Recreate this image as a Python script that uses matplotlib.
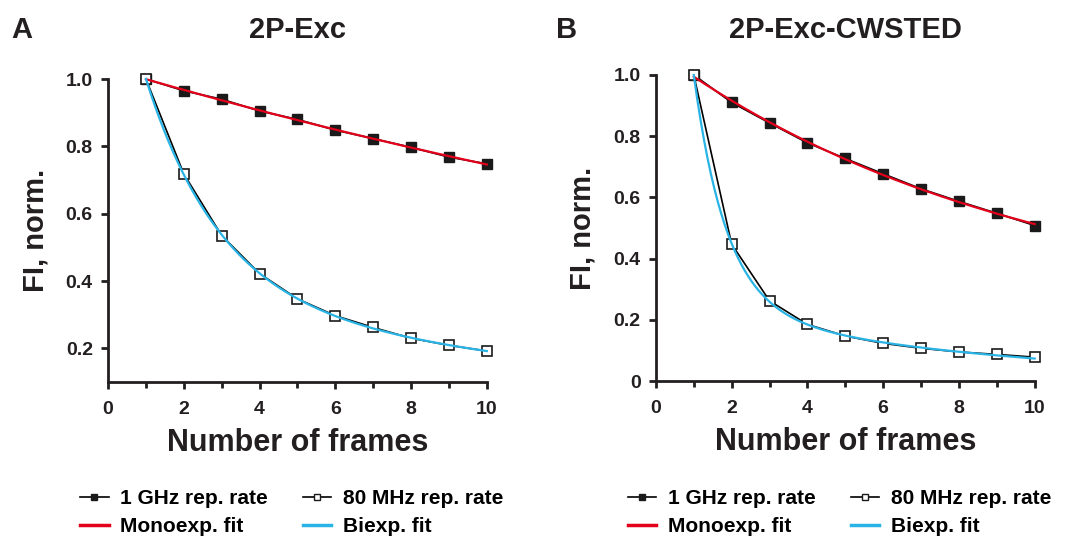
import numpy as np
import matplotlib
matplotlib.use("Agg")
import matplotlib.pyplot as plt
from matplotlib.ticker import MultipleLocator
from matplotlib.lines import Line2D

plt.rcParams["font.family"] = ["Liberation Sans", "DejaVu Sans"]
plt.rcParams["font.weight"] = "bold"

frames = np.arange(1, 11)

# panel A, 2P-Exc
a_1ghz = [1.0, 0.965, 0.940, 0.905, 0.880, 0.848, 0.823, 0.797, 0.768, 0.748]
a_80mhz = [1.0, 0.718, 0.535, 0.422, 0.347, 0.297, 0.262, 0.230, 0.209, 0.192]
# panel B, 2P-Exc-CWSTED
b_1ghz = [1.0, 0.910, 0.843, 0.778, 0.727, 0.677, 0.628, 0.587, 0.548, 0.508]
b_80mhz = [1.0, 0.447, 0.262, 0.185, 0.147, 0.123, 0.107, 0.095, 0.087, 0.078]

titles = ["2P-Exc", "2P-Exc-CWSTED"]
letters = ["A", "B"]
ylims = [(0.1, 1.0), (0.0, 1.0)]
yticks = [[0.2, 0.4, 0.6, 0.8, 1.0], [0, 0.2, 0.4, 0.6, 0.8, 1.0]]
ytick_labels = [["0.2", "0.4", "0.6", "0.8", "1.0"], ["0", "0.2", "0.4", "0.6", "0.8", "1.0"]]

RED = "#e2001a"
CYAN = "#2ab4e6"
INK = "#231f20"


def mono_fit(x, y):
    # y = A*exp(-k t) + c, grid over k, linear lstsq for A and c
    t = np.asarray(x, float) - 1
    y = np.asarray(y, float)
    best = None
    for k in np.linspace(0.001, 1.0, 1000):
        M = np.column_stack([np.exp(-k * t), np.ones_like(t)])
        coef, *_ = np.linalg.lstsq(M, y, rcond=None)
        err = np.sum((M @ coef - y) ** 2)
        if best is None or err < best[0]:
            best = (err, k, coef)
    _, k, coef = best
    return lambda tt: coef[0] * np.exp(-k * (tt - 1)) + coef[1]


def bi_fit(x, y):
    # grid over the two rates, linear least squares for the amplitudes
    t = np.asarray(x, float) - 1
    y = np.asarray(y, float)
    best = None
    rates = np.linspace(0.01, 4.0, 200)
    for i, k1 in enumerate(rates):
        for k2 in rates[i + 1:]:
            M = np.column_stack([np.exp(-k1 * t), np.exp(-k2 * t)])
            coef, *_ = np.linalg.lstsq(M, y, rcond=None)
            err = np.sum((M @ coef - y) ** 2)
            if best is None or err < best[0]:
                best = (err, k1, k2, coef)
    _, k1, k2, coef = best
    return lambda tt: coef[0] * np.exp(-k1 * (tt - 1)) + coef[1] * np.exp(-k2 * (tt - 1))


fig = plt.figure(figsize=(10.7, 5.43), dpi=100)
rects = [[0.101, 0.2965, 0.354, 0.558], [0.613, 0.2983, 0.354, 0.5637]]
series = [(a_1ghz, a_80mhz), (b_1ghz, b_80mhz)]
title_x = [0.278, 0.790]
letter_x = [0.011, 0.520]

for i, (rect, (fast, slow)) in enumerate(zip(rects, series)):
    ax = fig.add_axes(rect)
    xx = np.linspace(1, 10, 300)
    ax.plot(frames, fast, color="black", lw=1.2, marker="s", ms=6.5,
            mfc="#1a1a1a", mec="#1a1a1a", clip_on=False, zorder=3)
    ax.plot(xx, mono_fit(frames, fast)(xx), color=RED, lw=1.6, clip_on=False, zorder=4)
    ax.plot(frames, slow, color="black", lw=1.2, marker="s", ms=6.5,
            mfc="white", mec="#1a1a1a", mew=1.2, clip_on=False, zorder=3)
    ax.plot(xx, bi_fit(frames, slow)(xx), color=CYAN, lw=1.6, clip_on=False, zorder=4)

    ax.set_xlim(0, 10)
    ax.set_ylim(*ylims[i])
    ax.set_xticks([0, 2, 4, 6, 8, 10])
    ax.xaxis.set_minor_locator(MultipleLocator(1))
    ax.set_yticks(yticks[i])
    ax.set_yticklabels(ytick_labels[i])
    for s in ["top", "right"]:
        ax.spines[s].set_visible(False)
    for s in ["left", "bottom"]:
        ax.spines[s].set_linewidth(2.0)
        ax.spines[s].set_color(INK)
    ax.tick_params(which="both", direction="out", width=2.0, length=5,
                   color=INK, labelsize=14, pad=6)
    ax.tick_params(axis="x", which="major", pad=9)
    ax.tick_params(which="minor", length=4)
    for lab in ax.get_xticklabels() + ax.get_yticklabels():
        lab.set_fontweight("bold")
        lab.set_color(INK)
    ax.set_xlabel("Number of frames", fontsize=22, fontweight="bold", labelpad=7, color=INK)
    ax.set_ylabel("FI, norm.", fontsize=21, fontweight="bold", labelpad=12, color=INK)

    handles = [
        Line2D([], [], color="black", lw=1.2, marker="s", ms=5, mfc="#1a1a1a", mec="#1a1a1a"),
        Line2D([], [], color=RED, lw=2.5),
        Line2D([], [], color="black", lw=1.2, marker="s", ms=5, mfc="white", mec="#1a1a1a"),
        Line2D([], [], color=CYAN, lw=2.5),
    ]
    labels = ["1 GHz rep. rate", "Monoexp. fit", "80 MHz rep. rate", "Biexp. fit"]
    ax.legend(handles, labels, ncol=2, frameon=False, loc="upper left",
              bbox_to_anchor=(-0.095, -0.325), prop={"size": 15, "weight": "bold"},
              handlelength=1.35, handletextpad=0.55, columnspacing=1.7, labelspacing=0.45,
              borderaxespad=0)

    fig.text(title_x[i], 0.945, titles[i], fontsize=21, fontweight="bold",
             color=INK, ha="center", va="center")
    fig.text(letter_x[i], 0.945, letters[i], fontsize=21, fontweight="bold",
             color=INK, va="center")

fig.savefig("out.png", dpi=100)
